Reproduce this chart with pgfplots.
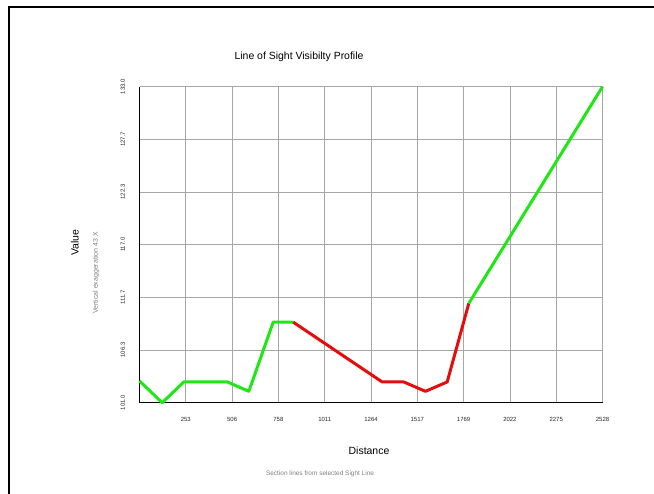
\documentclass[border=0pt]{standalone}
\usepackage{pgfplots}
\pgfplotsset{compat=1.18}
\usepackage{fontspec}
\setmainfont{Liberation Sans}
\definecolor{losgreen}{RGB}{30,232,20}
\definecolor{losred}{RGB}{228,12,12}
\begin{document}
\begin{tikzpicture}[x=1bp,y=1bp]
\path[use as bounding box] (0,0) rectangle (654,494);
\draw[line width=2bp] (8.5,-5) -- (8.5,486.5) -- (660,486.5);
\begin{axis}[
  at={(139.5bp,91.3bp)}, anchor=south west,
  scale only axis, width=463bp, height=316bp,
  xmin=0, xmax=2528, ymin=101, ymax=133,
  axis x line*=bottom, axis y line*=left,
  axis line style={line width=1.5bp, black, -},
  xtick={252.8,505.6,758.4,1011.2,1264,1516.8,1769.6,2022.4,2275.2,2528},
  xticklabels={253,506,758,1011,1264,1517,1769,2022,2275,2528},
  ytick={101,106.333,111.667,117,122.333,127.667,133},
  yticklabels={101.0,106.3,111.7,117.0,122.3,127.7,133.0},
  grid=major, major grid style={gray!70, line width=0.8bp},
  major tick length=0pt,
  /pgf/number format/assume math mode=true,
  tick label style={font=\fontsize{6}{7}\selectfont, text=black!85},
  xticklabel style={anchor=north, text height=4.5bp, text depth=0bp},
  yticklabel style={rotate=90, anchor=south, text height=4.5bp, text depth=0bp},
  xticklabel shift=10.5bp,
  yticklabel shift=11bp,
  clip=false,
]
\addplot[losgreen, line width=3bp, line join=round] coordinates {
  (0,103.2) (124,101.0) (242,103.1) (480,103.1) (597,102.15) (730,109.16) (839,109.16)
};
\addplot[losred, line width=3bp, line join=round] coordinates {
  (839,109.16) (1325,103.1) (1443,103.1) (1561,102.15) (1680,103.1) (1798,111.06)
};
\addplot[losgreen, line width=3bp, line join=round] coordinates {
  (1798,111.06) (2528,133)
};
\end{axis}
\node[font=\fontsize{10.5}{12}\selectfont] at (299,437) {Line of Sight Visibilty Profile};
\node[font=\fontsize{10.5}{12}\selectfont] at (369,43) {Distance};
\node[font=\fontsize{6.5}{8}\selectfont, text=gray] at (320,20) {Section lines from selected Sight Line};
\node[font=\fontsize{10.5}{12}\selectfont, rotate=90] at (75,251) {Value};
\node[font=\fontsize{7}{8}\selectfont, text=gray, rotate=90] at (96,221) {Vertical exaggeration 43 X};
\end{tikzpicture}
\end{document}
